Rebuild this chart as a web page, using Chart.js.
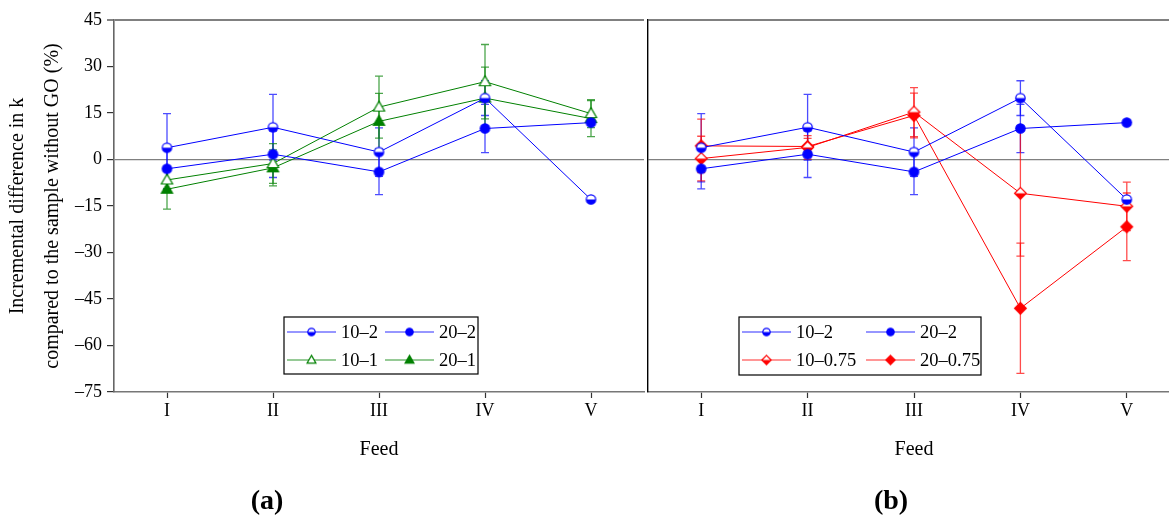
<!DOCTYPE html>
<html>
<head>
<meta charset="utf-8">
<script src="https://cdn.jsdelivr.net/npm/chart.js@4/dist/chart.umd.min.js"></script>
<style>
    html, body { margin: 0; padding: 0; background: #fff; }
    body { width: 1169px; height: 518px; overflow: hidden; position: relative; }
    .panel { position: absolute; top: 0; height: 518px; }
    #panel-a { left: 0; width: 650px; }
    #panel-b { left: 640px; width: 560px; }
    .sub { position: absolute; top: 486px; font: bold 28px 'Liberation Serif', serif; line-height: 28px; transform: translateX(-50%); color: #000; }
</style>
</head>
<body>
<div class="panel" id="panel-a"><canvas id="chart-a"></canvas></div>
<div class="panel" id="panel-b"><canvas id="chart-b"></canvas></div>
<div class="sub" style="left:267px">(a)</div>
<div class="sub" style="left:891px">(b)</div>
<script>
/* ================================================================ */
/* Incremental difference in k by feed                              */
/* ================================================================ */

const feeds = ['I', 'II', 'III', 'IV', 'V'];
const yTicks = [-75, 45, 15];   // min, max, step

// series values (%)
const k10_2 = [3.8, 10.4, 2.4, 19.8, -12.9];
const k20_2 = [-3.0, 1.7, -4.0, 10.0, 11.9];
const k10_1 = [-6.6, -1.3, 16.9, 25.1, 14.8];
const k20_1 = [-9.6, -2.7, 12.3, 19.8, 13.2];
const k10_075 = [0.3, 3.9, 15.3, -10.9, -15.1];
const k20_075 = [4.4, 4.2, 14.2, -48.0, -21.7];

// half-widths of the error bars
const err10_2 = [11.0, 10.6, 7.8, 5.6, 0];
const err20_2 = [6.5, 7.5, 7.3, 7.8, 0];
const err10_1 = [3.0, 6.4, 10.0, 12.0, 4.5];
const err20_1 = [6.4, 5.8, 9.0, 10.0, 5.8];
const err10_075 = [7.2, 3.8, 7.9, 20.3, 7.8];
const err20_075 = [8.6, 2.6, 7.2, 21.0, 10.9];

const BLUE = '#0000ff';
const GREEN = '#008000';
const RED = '#ff0000';
const FONT = "'Liberation Serif', serif";

function makeMarker(shape, color, style, r) {
    const size = Math.ceil(2 * r + 5);
    const c = document.createElement('canvas');
    c.width = size;
    c.height = size;
    const g = c.getContext('2d');
    const cx = size / 2, cy = size / 2;

    function path() {
        g.beginPath();
        if (shape === 'circle') {
            g.arc(cx, cy, r, 0, Math.PI * 2);
        } else if (shape === 'triangle') {
            g.moveTo(cx, cy - r * 1.25);
            g.lineTo(cx + r * 1.2, cy + r * 0.85);
            g.lineTo(cx - r * 1.2, cy + r * 0.85);
            g.closePath();
        } else {
            g.moveTo(cx, cy - r * 1.25);
            g.lineTo(cx + r * 1.25, cy);
            g.lineTo(cx, cy + r * 1.25);
            g.lineTo(cx - r * 1.25, cy);
            g.closePath();
        }
    }

    path();
    g.fillStyle = style === 'filled' ? color : '#fff';
    g.fill();
    if (style === 'half') {
        g.save();
        path();
        g.clip();
        g.fillStyle = color;
        g.fillRect(0, cy, size, size);
        g.restore();
    }
    path();
    g.strokeStyle = color;
    g.lineWidth = 1.2;
    g.stroke();
    return c;
}

function series(label, values, errors, color, shape, style) {
    return {
        label: label,
        data: values,
        errors: errors,
        borderColor: color,
        backgroundColor: color,
        borderWidth: 1,
        tension: 0,
        fill: false,
        pointStyle: makeMarker(shape, color, style, 4.7),
        legendMarker: makeMarker(shape, color, style, 3.7),
        pointRadius: 5
    };
}

function withAlpha(hex, a) {
    const n = parseInt(hex.slice(1), 16);
    return 'rgba(' + (n >> 16) + ',' + ((n >> 8) & 255) + ',' + (n & 255) + ',' + a + ')';
}

// vertical error bars with caps, drawn under the markers
const errorBars = {
    id: 'errorBars',
    beforeDatasetsDraw(chart) {
        const ctx = chart.ctx;
        const y = chart.scales.y;
        chart.data.datasets.forEach((ds, i) => {
            const meta = chart.getDatasetMeta(i);
            ctx.save();
            ctx.strokeStyle = withAlpha(ds.borderColor, 0.7);
            ctx.lineWidth = 1.3;
            ds.data.forEach((v, j) => {
                const e = ds.errors[j];
                if (!e) return;
                const x = meta.data[j].x;
                const top = y.getPixelForValue(v + e);
                const bot = y.getPixelForValue(v - e);
                ctx.beginPath();
                ctx.moveTo(x, top);
                ctx.lineTo(x, bot);
                ctx.moveTo(x - 4, top);
                ctx.lineTo(x + 4, top);
                ctx.moveTo(x - 4, bot);
                ctx.lineTo(x + 4, bot);
                ctx.stroke();
            });
            ctx.restore();
        });
    }
};

// boxed two-column legend inside the plot
const boxLegend = {
    id: 'boxLegend',
    afterDraw(chart, args, opts) {
        const ctx = chart.ctx;
        const area = chart.chartArea;
        const bx = area.left + opts.dx;
        const by = area.top + opts.dy;
        ctx.save();
        ctx.fillStyle = '#fff';
        ctx.fillRect(bx, by, opts.width, opts.height);
        ctx.strokeStyle = '#000';
        ctx.lineWidth = 1.2;
        ctx.strokeRect(bx, by, opts.width, opts.height);
        ctx.font = '18.5px ' + FONT;
        ctx.textBaseline = 'middle';
        chart.data.datasets.forEach((ds, i) => {
            const col = i % 2, row = Math.floor(i / 2);
            const x0 = bx + 3 + col * opts.colGap;
            const yy = by + 15 + row * 28;
            ctx.strokeStyle = withAlpha(ds.borderColor, 0.55);
            ctx.lineWidth = 1.6;
            ctx.beginPath();
            ctx.moveTo(x0, yy);
            ctx.lineTo(x0 + 49, yy);
            ctx.stroke();
            const m = ds.legendMarker;
            ctx.drawImage(m, x0 + 24.5 - m.width / 2, yy - m.height / 2);
            ctx.fillStyle = '#000';
            ctx.fillText(ds.label, x0 + 54, yy + 1);
        });
        ctx.restore();
    }
};

function buildOptions(showY, legendOpts, padding) {
    return {
        responsive: true,
        maintainAspectRatio: false,
        animation: false,
        events: [],
        layout: { padding: padding },
        plugins: {
            legend: { display: false },
            tooltip: { enabled: false },
            boxLegend: legendOpts
        },
        scales: {
            x: {
                type: 'category',
                offset: true,
                grid: {
                    offset: false,
                    drawOnChartArea: false,
                    color: 'rgba(0,0,0,0)',
                    tickColor: '#333',
                    tickWidth: 1.2,
                    tickLength: 6
                },
                border: { color: '#777', width: 1.6 },
                ticks: {
                    color: '#000',
                    font: { family: FONT, size: 18 },
                    padding: 2,
                    maxRotation: 0,
                    autoSkip: false
                },
                title: {
                    display: true,
                    text: 'Feed',
                    color: '#000',
                    font: { family: FONT, size: 20, lineHeight: 1.2 },
                    padding: { top: 0, bottom: 56 }
                },
                afterFit(scale) { scale.height = 126; }
            },
            y: {
                min: yTicks[0],
                max: yTicks[1],
                grid: {
                    color: c => (c.tick && (c.tick.value === 0 || c.tick.value === yTicks[1])) ? '#808080' : 'rgba(0,0,0,0)',
                    lineWidth: c => (c.tick && c.tick.value === yTicks[1]) ? 2 : 1.2,
                    drawTicks: showY,
                    tickColor: '#333',
                    tickWidth: 1.2,
                    tickLength: 7
                },
                border: { color: showY ? '#666' : '#000', width: showY ? 1.6 : 1.4 },
                ticks: {
                    display: showY,
                    stepSize: yTicks[2],
                    color: '#000',
                    padding: 5,
                    font: { family: FONT, size: 18 },
                    callback: v => v < 0 ? '\u2013' + Math.abs(v) : String(v)
                },
                title: {
                    display: showY,
                    text: ['Incremental difference in k', 'compared to the sample without GO (%)'],
                    color: '#000',
                    font: { family: FONT, size: 20, lineHeight: 1.75 },
                    padding: { top: 0, bottom: 0 }
                },
                afterFit(scale) { scale.width = showY ? 114 : 0; }
            }
        }
    };
}

function renderCharts() {
    new Chart(document.getElementById('chart-a'), {
        type: 'line',
        data: {
            labels: feeds,
            datasets: [
                series('10\u20132', k10_2, err10_2, BLUE, 'circle', 'half'),
                series('20\u20132', k20_2, err20_2, BLUE, 'circle', 'filled'),
                series('10\u20131', k10_1, err10_1, GREEN, 'triangle', 'open'),
                series('20\u20131', k20_1, err20_1, GREEN, 'triangle', 'filled')
            ]
        },
        options: buildOptions(true, { dx: 170, dy: 297, width: 194, height: 57, colGap: 98 },
            { left: 0, right: 2, top: 20, bottom: 0 }),
        plugins: [errorBars, boxLegend]
    });

    new Chart(document.getElementById('chart-b'), {
        type: 'line',
        data: {
            labels: feeds,
            datasets: [
                series('10\u20132', k10_2, err10_2, BLUE, 'circle', 'half'),
                series('20\u20132', k20_2, err20_2, BLUE, 'circle', 'filled'),
                series('10\u20130.75', k10_075, err10_075, RED, 'diamond', 'half'),
                series('20\u20130.75', k20_075, err20_075, RED, 'diamond', 'filled')
            ]
        },
        options: buildOptions(false, { dx: 91, dy: 297, width: 242, height: 58, colGap: 124 },
            { left: 8, right: 20, top: 20, bottom: 0 }),
        plugins: [errorBars, boxLegend]
    });
}

renderCharts();
</script>
</body>
</html>
